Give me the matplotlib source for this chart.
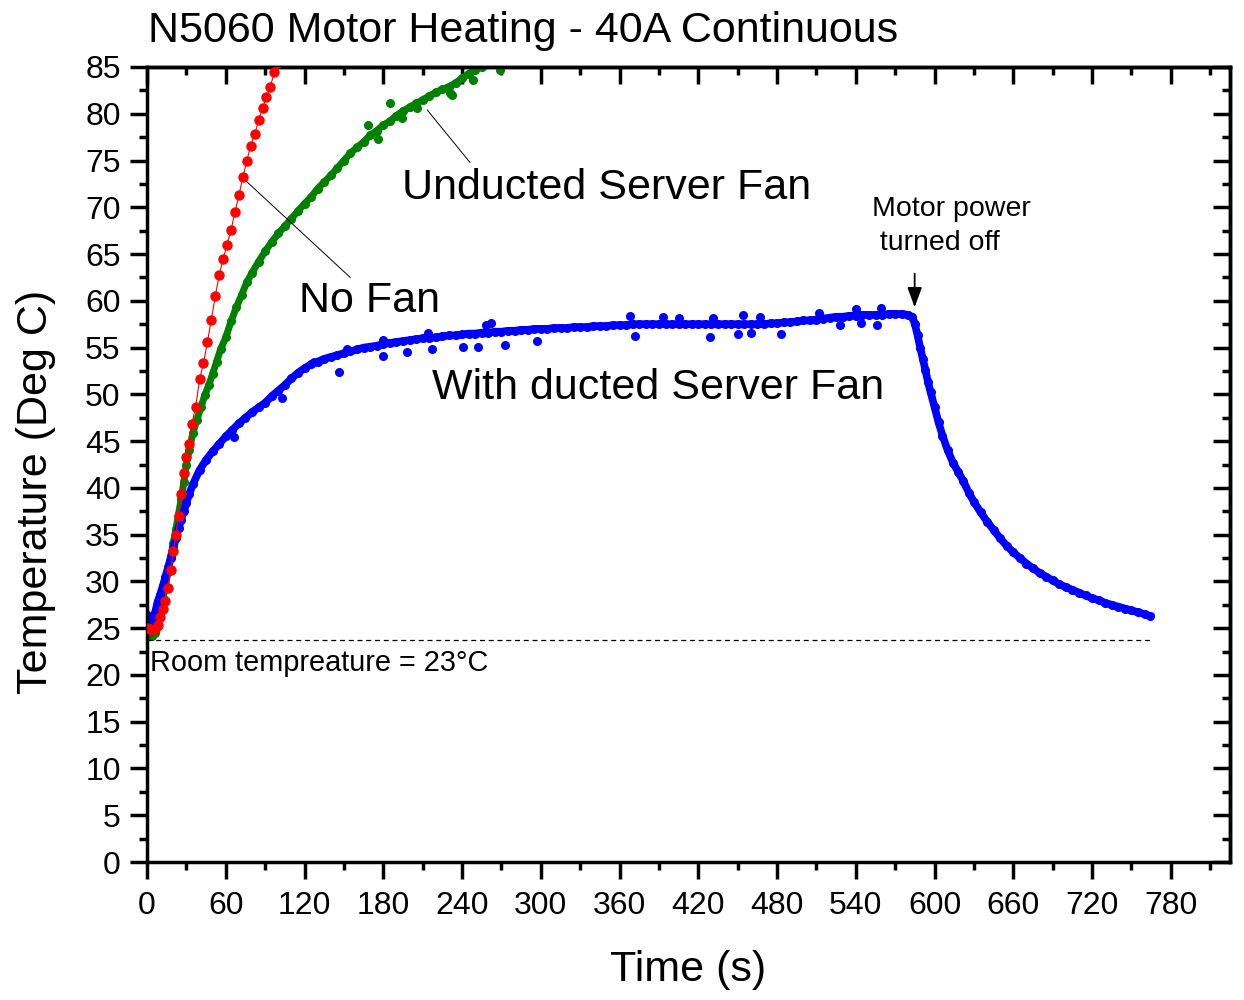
import matplotlib
matplotlib.use("Agg")
import matplotlib.pyplot as plt
from matplotlib.ticker import MultipleLocator

plt.rcParams['font.family'] = ['Liberation Sans', 'DejaVu Sans']

# No Fan (red)
red_t = [0, 2, 4, 6, 8, 10, 12, 14, 16, 18, 20, 22, 24, 26, 28, 30, 32, 34, 37, 40,
         43, 46, 49, 52, 55, 58, 61, 64, 67, 70, 73, 76, 79, 82, 85, 88, 91, 94, 97, 99]
red_T = [25.0, 24.9, 24.8, 24.9, 25.3, 26.2, 27.1, 27.9, 29.3, 31.2, 33.2, 35.0, 37.0, 39.3, 41.6, 43.3, 44.7, 46.8, 48.6, 51.6,
         53.3, 55.6, 58.0, 60.5, 62.8, 64.5, 66.0, 67.6, 69.5, 71.3, 73.2, 75.0, 76.6, 77.8, 79.3, 80.6, 81.8, 82.9, 84.5, 85.4]

# Unducted Server Fan (green)
green_t = [0, 2, 4, 6, 8, 10, 12, 14, 16, 18, 20, 22, 24, 26, 28, 30, 32, 35, 38, 41,
           44, 47, 50, 53, 56, 60, 64, 68, 72, 76, 80, 85, 90, 95, 100, 105, 110, 115, 120, 125,
           130, 135, 140, 145, 150, 155, 160, 165, 170, 175, 180, 185, 190, 195, 200, 205, 210, 215, 220, 225,
           230, 235, 240, 245, 250, 255, 260, 265, 270]
green_T = [24.3, 24.2, 24.2, 24.5, 25.2, 26.5, 28.2, 29.6, 31.0, 32.6, 34.1, 35.6, 37.2, 38.8, 40.6, 42.5, 44.0, 45.9, 47.3, 48.6,
           49.9, 51.0, 52.2, 53.5, 54.8, 56.1, 57.8, 59.3, 60.6, 62.0, 63.0, 64.2, 65.3, 66.3, 67.2, 68.0, 68.8, 69.6, 70.4, 71.1,
           72.0, 72.7, 73.4, 74.2, 75.0, 75.8, 76.4, 77.0, 77.7, 78.2, 78.8, 79.2, 79.8, 80.3, 80.7, 81.1, 81.5, 81.9, 82.3, 82.6,
           82.9, 83.3, 83.8, 84.3, 84.7, 85.0, 85.3, 85.8, 86.2]
green_out_t = [168, 176, 185, 194, 206, 231, 232, 248, 269]
green_out_T = [78.8, 77.3, 81.1, 79.5, 80.6, 82.2, 82.0, 83.6, 84.7]

# With ducted Server Fan (blue)
blue_t = [0, 2, 4, 6, 8, 10, 12, 14, 16, 18, 20, 22, 24, 26, 28, 30, 32,
          35, 40, 45, 50, 55, 60, 65, 70, 75, 80, 85, 90, 95, 100, 105, 110, 115, 120,
          125, 130, 135, 140, 145, 150, 155, 160, 165, 170, 175, 180, 185, 190, 195, 200,
          205, 210, 215, 220, 225, 230, 235, 240, 245, 250, 255, 260, 265, 270, 275, 280,
          285, 290, 295, 300, 305, 310, 315, 320, 325, 330, 335, 340, 345, 350, 355, 360,
          365, 370, 375, 380, 385, 390, 395, 400, 405, 410, 415, 420, 425, 430, 435, 440,
          445, 450, 455, 460, 465, 470, 475, 480, 485, 490, 495, 500, 505, 510, 515, 520,
          525, 530, 535, 540, 545, 550, 555, 560, 565, 570, 575, 580, 583,
          585, 587, 589, 591, 593, 595, 597, 600, 603, 606, 610, 614, 618, 622, 626, 630,
          635, 640, 645, 650, 655, 660, 665, 670, 675, 680, 685, 690, 695, 700, 705, 710,
          715, 720, 725, 730, 735, 740, 745, 750, 755, 760, 764]
blue_T = [26.4, 26.0, 25.6, 26.6, 27.8, 28.6, 29.5, 30.5, 31.5, 32.5, 33.6, 34.6, 35.7, 36.6, 37.5, 38.4, 39.3,
          40.4, 41.9, 43.0, 43.9, 44.7, 45.5, 46.2, 46.9, 47.5, 48.1, 48.6, 49.1, 49.8, 50.4, 51.0, 51.7, 52.3, 52.8,
          53.2, 53.5, 53.8, 54.0, 54.2, 54.4, 54.6, 54.8, 55.0, 55.1, 55.2, 55.4, 55.5, 55.6, 55.7, 55.8,
          55.9, 56.0, 56.0, 56.1, 56.2, 56.3, 56.3, 56.4, 56.5, 56.5, 56.6, 56.6, 56.7, 56.7, 56.8, 56.8,
          56.9, 56.9, 57.0, 57.0, 57.0, 57.1, 57.1, 57.1, 57.2, 57.2, 57.2, 57.3, 57.3, 57.3, 57.4, 57.4,
          57.4, 57.5, 57.5, 57.5, 57.5, 57.5, 57.5, 57.5, 57.5, 57.5, 57.5, 57.5, 57.5, 57.5, 57.5, 57.5,
          57.5, 57.5, 57.5, 57.5, 57.5, 57.5, 57.6, 57.6, 57.7, 57.7, 57.8, 57.9, 57.9, 58.0, 58.1, 58.2,
          58.3, 58.3, 58.4, 58.4, 58.5, 58.5, 58.5, 58.5, 58.6, 58.6, 58.6, 58.5, 58.3,
          57.5, 56.3, 55.0, 53.8, 52.6, 51.3, 50.2, 48.6, 47.0, 45.6, 44.0, 42.7, 41.7, 40.7, 39.5, 38.5,
          37.4, 36.4, 35.5, 34.6, 33.8, 33.1, 32.5, 31.9, 31.4, 30.9, 30.5, 30.1, 29.7, 29.4, 29.1, 28.8,
          28.5, 28.2, 28.0, 27.7, 27.5, 27.3, 27.1, 26.9, 26.7, 26.5, 26.3]
blue_out_t = [66, 103, 127, 146, 152, 180, 180, 198, 214, 217, 241, 252, 258, 262, 273, 297, 368, 372,
              393, 405, 429, 431, 450, 454, 460, 467, 483, 512, 528, 540, 544, 556, 559]
blue_out_T = [45.4, 49.6, 53.5, 52.4, 54.8, 55.8, 54.1, 54.5, 56.6, 54.8, 55.1, 55.1, 57.4, 57.6, 55.3, 55.7, 58.4, 56.2,
              58.3, 58.2, 56.1, 58.2, 56.4, 58.5, 56.6, 58.3, 56.4, 58.7, 57.4, 59.1, 57.6, 57.4, 59.2]

room_T = 23.7

fig = plt.figure(figsize=(12.44, 10), dpi=100)
ax = fig.add_axes([0.1182, 0.138, 0.8705, 0.795])

ax.plot(red_t, red_T, color='#ff0000', lw=0.8, marker='o', ms=6.5, mec='#ff0000', zorder=3)
ax.plot(green_t, green_T, color='#008000', lw=5, marker='o', ms=5.5, mec='#008000', zorder=2)
ax.plot(green_out_t, green_out_T, ls='none', color='#008000', marker='o', ms=5.5, zorder=2)
ax.plot(blue_t, blue_T, color='#0000ff', lw=5.5, marker='o', ms=5.5, mec='#0000ff', zorder=2)
ax.plot(blue_out_t, blue_out_T, ls='none', color='#0000ff', marker='o', ms=5.5, zorder=2)

ax.plot([0, 765], [room_T, room_T], color='black', ls=(0, (4, 3)), lw=0.9)
ax.text(2, 21.3, 'Room tempreature = 23\u00b0C', fontsize=20.8, va='center', ha='left')

ax.plot([73.2, 154.8], [73.1, 62.5], color='black', lw=0.7)
ax.plot([213.5, 246], [80.4, 74.8], color='black', lw=0.7)
ax.text(194, 72.1, 'Unducted Server Fan', fontsize=31, va='center', ha='left')
ax.text(116, 60.0, 'No Fan', fontsize=31, va='center', ha='left')
ax.text(217, 50.7, 'With ducted Server Fan', fontsize=31, va='center', ha='left')

ax.annotate('', xy=(584.8, 59.3), xytext=(584.8, 62.9),
            arrowprops=dict(arrowstyle='-|>,head_length=0.55,head_width=0.2', color='black',
                            lw=1.3, mutation_scale=22, shrinkA=0, shrinkB=0))
ax.text(552, 68.0, 'Motor power\n turned off', fontsize=20.5, va='center', ha='left', linespacing=1.4)

ax.set_xlim(0, 825)
ax.set_ylim(0, 85)
ax.xaxis.set_major_locator(MultipleLocator(60))
ax.xaxis.set_minor_locator(MultipleLocator(30))
ax.yaxis.set_major_locator(MultipleLocator(5))
ax.yaxis.set_minor_locator(MultipleLocator(2.5))
ax.tick_params(which='both', direction='out', width=2.5, labelsize=23, top=False, right=False)
ax.tick_params(which='major', length=12)
ax.tick_params(axis='x', which='major', pad=9)
ax.tick_params(axis='y', which='major', pad=7)
ax.tick_params(which='minor', length=6)

# inward ticks on top and right
sec_x = ax.secondary_xaxis('top')
sec_x.xaxis.set_major_locator(MultipleLocator(60))
sec_x.xaxis.set_minor_locator(MultipleLocator(30))
sec_x.tick_params(which='both', direction='in', width=2.5, labeltop=False)
sec_x.tick_params(which='major', length=12)
sec_x.tick_params(which='minor', length=6)
sec_x.spines['top'].set_linewidth(2.5)
sec_y = ax.secondary_yaxis('right')
sec_y.yaxis.set_major_locator(MultipleLocator(5))
sec_y.yaxis.set_minor_locator(MultipleLocator(2.5))
sec_y.tick_params(which='both', direction='in', width=2.5, labelright=False)
sec_y.tick_params(which='major', length=12)
sec_y.tick_params(which='minor', length=6)
sec_y.spines['right'].set_linewidth(2.5)

for s in ax.spines.values():
    s.set_linewidth(2.5)

fig.text(688 / 1244, 1 - 970 / 1000, 'Time (s)', fontsize=31, ha='center', va='center')
fig.text(36 / 1244, 1 - 492 / 1000, 'Temperature (Deg C)', fontsize=31, ha='center', va='center',
         rotation=90)

fig.text(148 / 1244, 1 - 31 / 1000, 'N5060 Motor Heating - 40A Continuous', fontsize=31,
         va='center', ha='left')

fig.savefig('out.png', dpi=100)
